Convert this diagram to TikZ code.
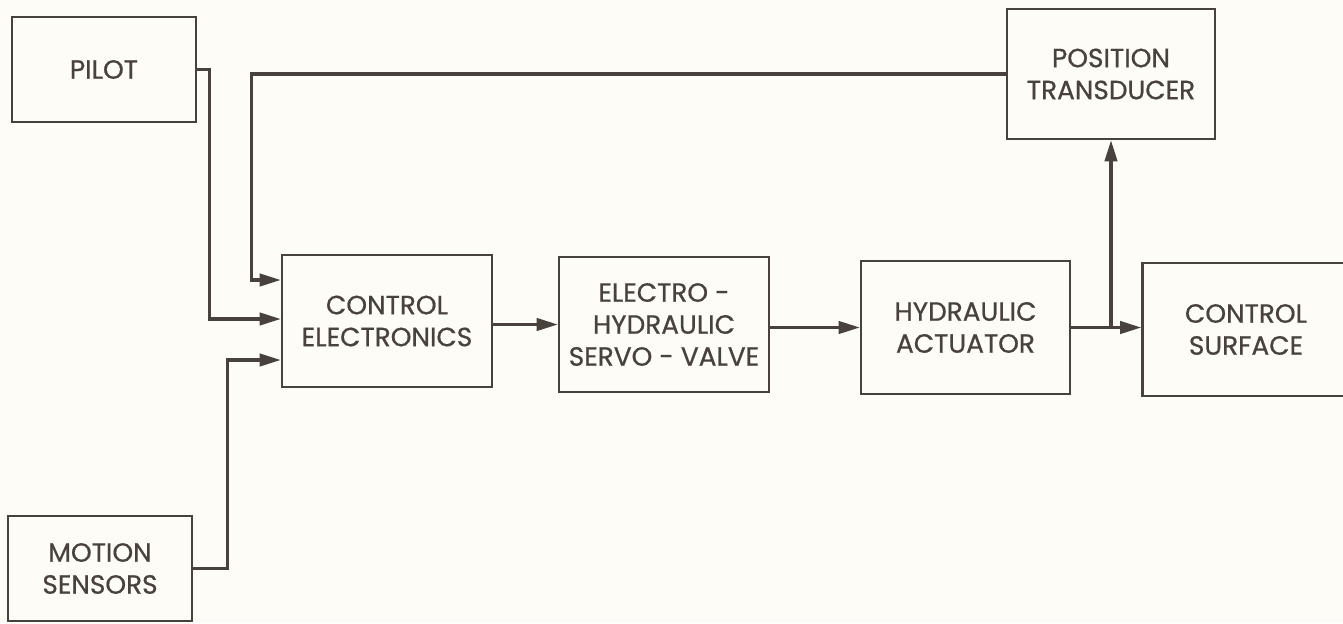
\documentclass[tikz,border=0pt]{standalone}
\usepackage{fontspec}
\setmainfont{Poppins}
\newfontfamily\blockfont{Poppins}[FakeBold=0.7]
\usetikzlibrary{arrows.meta,calc}
\definecolor{ink}{RGB}{72,66,60}
\definecolor{paper}{RGB}{253,252,246}

\begin{document}
\begin{tikzpicture}[x=0.02cm,y=-0.02cm,
    block/.style={draw=ink, line width=1.4pt, align=center, text=ink, inner sep=0pt,
        font=\blockfont\fontsize{15}{18.2}\selectfont},
    link/.style={draw=ink, line width=1.8pt, -{Triangle[length=12pt,width=7pt]}}]
                \fill[paper] (0,0) rectangle (1343,623);
                \clip (0,0) rectangle (1343,623);

                \node[block, minimum width=3.68cm, minimum height=2.1cm] (Pilot) at (104,69.5) {PILOT};
                \node[block, minimum width=3.68cm, minimum height=2.1cm] (Motion) at (100,568.5) {MOTION\\ SENSORS};
                \node[block, minimum width=4.2cm, minimum height=2.64cm] (Control) at (387,321) {CONTROL\\ ELECTRONICS};
                \node[block, minimum width=4.2cm, minimum height=2.7cm] (Servo) at (664,324.5) {ELECTRO -\\ HYDRAULIC\\ SERVO - VALVE};
                \node[block, minimum width=4.18cm, minimum height=2.66cm] (Actuator) at (965.5,327.5) {HYDRAULIC\\ ACTUATOR};
                \node[block, minimum width=4.14cm, minimum height=2.66cm] (Surface) at (1246,329.5) {CONTROL\\ SURFACE};
                \node[block, minimum width=4.16cm, minimum height=2.6cm] (Transducer) at (1111,74) {POSITION\\ TRANSDUCER};

                \draw[link] (Pilot.east) -| ($(Control.west)+(-71,-2)$) -- ($(Control.west)+(0,-2)$);
                \draw[link] (Motion.east) -| ($(Control.west)+(-53,39)$) -- ($(Control.west)+(0,39)$);
                \draw[link] (Transducer.west) -| ($(Control.west)+(-29,-41)$) -- ($(Control.west)+(0,-41)$);

                \draw[link] (Control.east |- Servo.west) -- (Servo.west);
                \draw[link] (Servo.east |- Actuator.west) -- (Actuator.west);
                \draw[link] (Actuator.east) -- (Actuator.east -| Surface.west);
                \draw[link] (Actuator.east -| Transducer.south) -- (Transducer.south);

            \end{tikzpicture}
\end{document}
